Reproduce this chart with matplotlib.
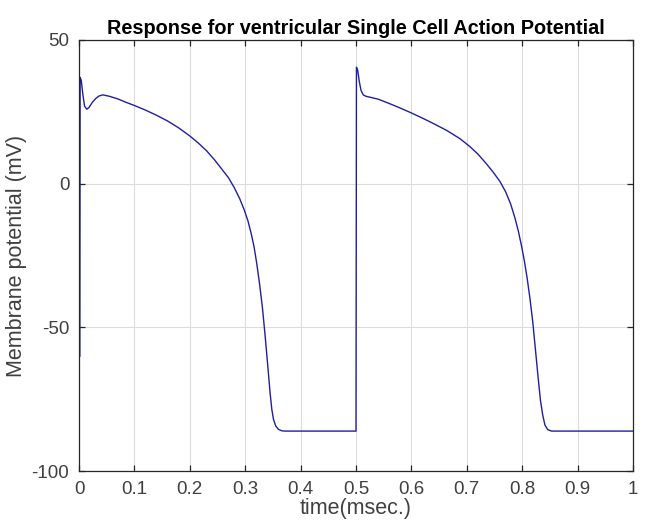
import matplotlib
matplotlib.use('Agg')
import matplotlib.pyplot as plt

plt.rcParams['font.family'] = ['Liberation Sans', 'DejaVu Sans']
plt.rcParams['axes.unicode_minus'] = False

# first action potential
t_ap1 = [0.0015, 0.002, 0.004, 0.007, 0.010, 0.014, 0.018, 0.024, 0.030, 0.036,
         0.043, 0.055, 0.070, 0.085, 0.100, 0.120, 0.140, 0.160, 0.180, 0.200,
         0.215, 0.230, 0.245, 0.258, 0.270, 0.280, 0.290, 0.298, 0.305, 0.311,
         0.316, 0.321, 0.326, 0.331, 0.336, 0.341, 0.345, 0.348, 0.351, 0.355,
         0.360, 0.366, 0.372, 0.500]
v_ap1 = [-60.0, 37.0, 36.0, 31.0, 27.0, 25.9, 26.5, 28.3, 29.6, 30.5,
         30.9, 30.4, 29.5, 28.3, 27.2, 25.6, 23.8, 21.8, 19.4, 16.6,
         14.2, 11.5, 8.2, 5.0, 2.0, -1.3, -5.2, -9.0, -13.0, -17.5,
         -22.0, -28.0, -35.0, -43.0, -53.0, -64.0, -73.0, -78.5, -82.0, -84.3,
         -85.5, -86.0, -86.1, -86.1]

# second action potential
t_ap2 = [0.500, 0.5008, 0.503, 0.506, 0.509, 0.513, 0.518, 0.525, 0.540, 0.560,
         0.580, 0.600, 0.620, 0.640, 0.664, 0.688, 0.705, 0.720, 0.735, 0.748,
         0.760, 0.770, 0.779, 0.787, 0.793, 0.799, 0.804, 0.809, 0.814, 0.819,
         0.824, 0.829, 0.833, 0.837, 0.841, 0.846, 0.853, 1.000]
v_ap2 = [-86.1, 40.5, 39.5, 35.5, 32.5, 30.9, 30.4, 30.1, 29.4, 27.9,
         26.3, 24.6, 22.8, 20.9, 18.5, 15.6, 13.0, 10.3, 7.0, 3.9,
         0.7, -2.8, -7.0, -12.0, -16.5, -21.9, -27.0, -33.0, -40.0, -48.0,
         -58.0, -68.0, -75.5, -80.5, -84.0, -85.6, -86.1, -86.1]

x_ticks = [0, 0.1, 0.2, 0.3, 0.4, 0.5, 0.6, 0.7, 0.8, 0.9, 1]
x_labels = ['0', '0.1', '0.2', '0.3', '0.4', '0.5', '0.6', '0.7', '0.8', '0.9', '1']
y_ticks = [-100, -50, 0, 50]

fig = plt.figure(figsize=(6.46, 5.24), dpi=100)
ax = fig.add_axes([0.1223, 0.1011, 0.8576, 0.8226])

line_col = '#1f1fa0'
ax.plot(t_ap1 + t_ap2[1:], v_ap1 + v_ap2[1:], color=line_col, lw=1.0)

ax.set_xlim(0, 1)
ax.set_ylim(-100, 50)
ax.set_xticks(x_ticks)
ax.set_xticklabels(x_labels)
ax.set_yticks(y_ticks)

ax.grid(True, color='#dcdcdc', lw=0.8)
ax.set_axisbelow(True)
for s in ax.spines.values():
    s.set_color('#262626')
    s.set_linewidth(0.9)
ax.tick_params(direction='in', top=True, right=True, length=4, width=0.9,
               colors='#262626', labelsize=13.5, labelcolor='#404040', pad=7)

ax.set_xlabel('time(msec.)', fontsize=15.5, color='#404040', labelpad=0)
ax.set_ylabel('Membrane potential (mV)', fontsize=15.5, color='#404040', labelpad=3)
ax.set_title('Response for ventricular Single Cell Action Potential',
             fontsize=14.3, fontweight='bold', pad=4)

fig.savefig('out.png', dpi=100)
